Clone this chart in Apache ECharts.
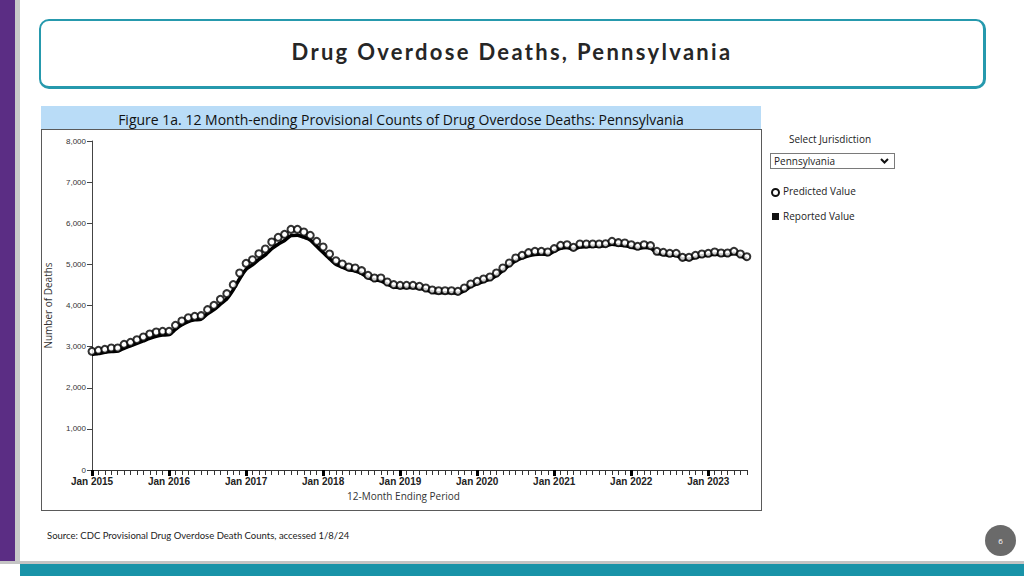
<!DOCTYPE html>
<html><head><meta charset="utf-8">
<script src="https://cdn.jsdelivr.net/npm/echarts@6/dist/echarts.min.js"></script>
<style>
html,body{margin:0;padding:0;background:#fff;}
#page{position:relative;width:1024px;height:576px;overflow:hidden;background:#fff;font-family:"Open Sans",sans-serif;}
.abs{position:absolute;}
</style></head>
<body>
<div id="page">
  <div class="abs" style="left:0;top:0;width:15px;height:563px;background:#5b2d84;"></div>
  <div class="abs" style="left:15px;top:0;width:5px;height:563px;background:#c9c9c9;"></div>
  <div class="abs" style="left:0;top:561px;width:1024px;height:3px;background:#c4c4c4;"></div>
  <div class="abs" style="left:20px;top:564px;width:1004px;height:12px;background:#1993a8;"></div>
  <div class="abs" style="left:39px;top:19px;width:942px;height:65px;border:2px solid #2699ad;border-right-width:3px;border-bottom-width:3px;border-radius:10px;"></div>
  <div class="abs" style="left:39px;top:38px;width:946px;text-align:center;font-family:Lato,sans-serif;font-weight:700;font-size:22px;letter-spacing:2.3px;color:#262626;">Drug Overdose Deaths, Pennsylvania</div>

  <div class="abs" style="left:41px;top:106px;width:720px;height:23px;background:#b9dcf7;"></div>
  <div class="abs" style="left:41px;top:110px;width:720px;text-align:center;font-size:14px;color:#111;">Figure 1a. 12 Month-ending Provisional Counts of Drug Overdose Deaths: Pennsylvania</div>
  <div class="abs" style="left:41px;top:129px;width:719px;height:380px;border:1px solid #5a5a5a;"></div>

  <div class="abs" style="left:770px;top:132px;width:120px;text-align:center;font-size:10px;color:#222;">Select Jurisdiction</div>
  <div class="abs" style="left:770px;top:153px;width:123px;height:14px;border:1px solid #7a7a7a;font-size:10px;color:#222;line-height:14px;">
    <span style="margin-left:3px;">Pennsylvania</span>
    <svg style="position:absolute;right:5px;top:4px;" width="9" height="6"><polyline points="1,1 4.5,4.5 8,1" fill="none" stroke="#111" stroke-width="2"/></svg>
  </div>
  <div class="abs" style="left:771px;top:188px;width:5px;height:5px;border:2px solid #111;border-radius:50%;"></div>
  <div class="abs" style="left:783px;top:184px;font-size:10px;color:#222;">Predicted Value</div>
  <div class="abs" style="left:772px;top:213px;width:7px;height:7px;background:#111;"></div>
  <div class="abs" style="left:783px;top:209px;font-size:10px;color:#222;">Reported Value</div>

  <div class="abs" style="left:47px;top:530px;font-family:Lato,sans-serif;font-size:9.5px;color:#222;">Source: CDC Provisional Drug Overdose Death Counts, accessed 1/8/24</div>
  <div class="abs" style="left:985px;top:525px;width:31px;height:31px;border-radius:50%;background:#6a6a6a;color:#fff;font-size:8px;text-align:center;line-height:31px;">6</div>

  <div id="chart" class="abs" style="left:0;top:0;width:1024px;height:576px;"></div>
</div>
<script>
const months = [];
const years = [2015,2016,2017,2018,2019,2020,2021,2022,2023];
const monthNames = ['Jan','Feb','Mar','Apr','May','Jun','Jul','Aug','Sep','Oct','Nov','Dec'];
for (const y of years) for (let m = 0; m < 12; m++) { if (y === 2023 && m > 6) break; months.push(monthNames[m] + ' ' + y); }

const predictedValues = [
 2886,2910,2935,2967,2967,3056,3105,3169,3234,3307,3356,3372,
 3372,3518,3623,3704,3736,3753,3899,4004,4150,4288,4507,4790,
 5026,5114,5260,5374,5544,5658,5731,5852,5852,5787,5706,5560,
 5422,5252,5090,5009,4936,4912,4847,4733,4669,4669,4571,4507,
 4490,4490,4490,4466,4425,4377,4360,4360,4360,4344,4425,4523,
 4587,4644,4693,4790,4912,5033,5155,5220,5285,5318,5318,5301,
 5382,5463,5479,5414,5495,5495,5495,5495,5503,5560,5528,5520,
 5479,5439,5479,5455,5318,5293,5269,5269,5171,5171,5220,5252,
 5269,5301,5277,5277,5318,5252,5187
];
const reportedValues = [
 2810,2830,2860,2880,2890,2960,3020,3080,3140,3200,3250,3280,
 3290,3420,3530,3610,3650,3670,3800,3900,4030,4160,4380,4650,
 4880,4990,5120,5230,5380,5490,5580,5700,5710,5660,5590,5440,
 5290,5140,5000,4930,4870,4840,4780,4680,4620,4600,4520,4450,
 4440,4440,4440,4420,4380,4330,4310,4310,4310,4300,4360,4460,
 4530,4590,4640,4730,4850,4980,5090,5160,5210,5240,5250,5240,
 5320,5390,5410,5370,5420,5430,5440,5440,5450,5490,5470,5460,
 5420,5390,5410,5400,5270,5240,5220,5220,5130,5130,5170,5210,
 5220,5250,5230,5230,5270,5210,5130
];
const yTicks = [0,1000,2000,3000,4000,5000,6000,7000,8000];

const chart = echarts.init(document.getElementById('chart'), null, {renderer: 'svg'});
chart.setOption({
  animation: false,
  backgroundColor: 'transparent',
  grid: {left: 92, right: 277.2, top: 141, bottom: 106},
  xAxis: [{
    type: 'category', data: months, boundaryGap: false,
    axisLine: {lineStyle: {color: '#333', width: 1}},
    axisTick: {interval: 0, length: 5, lineStyle: {color: '#333', width: 1}},
    axisLabel: {show: false}
  }, {
    type: 'category', data: months, boundaryGap: false, position: 'bottom',
    axisLine: {show: false},
    axisTick: {interval: (i) => i % 12 === 0, length: 6, lineStyle: {color: '#000', width: 3}},
    axisLabel: {interval: (i) => i % 12 === 0, margin: 6, fontFamily: 'Liberation Sans, Arial', fontWeight: 'bold', fontSize: 10, color: '#222'}
  }],
  yAxis: {
    type: 'value', min: yTicks[0], max: yTicks[yTicks.length - 1], interval: 1000,
    name: 'Number of Deaths', nameLocation: 'middle', nameGap: 39,
    nameTextStyle: {fontFamily: 'Open Sans', fontSize: 10, color: '#333'},
    axisLine: {show: true, lineStyle: {color: '#444'}},
    axisTick: {show: true, length: 5, lineStyle: {color: '#444'}},
    splitLine: {show: false},
    axisLabel: {margin: 6, fontFamily: 'Liberation Sans, Arial', fontSize: 8, color: '#333',
      formatter: (v) => v.toLocaleString('en-US')}
  },
  graphic: [{
    type: 'text', left: 347, top: 491,
    style: {text: '12-Month Ending Period', font: '10px "Open Sans"', fill: '#333'}
  }],
  series: [{
    name: 'Reported Value', type: 'line', data: reportedValues, xAxisIndex: 0,
    showSymbol: false, symbol: 'none', smooth: 0.2,
    lineStyle: {color: '#000', width: 3.5}, z: 2
  }, {
    name: 'Predicted Value', type: 'scatter', data: predictedValues, xAxisIndex: 0,
    symbol: 'circle', symbolSize: 7,
    itemStyle: {color: '#fff', borderColor: '#000', borderWidth: 2}, z: 3
  }]
});
</script>
</body></html>
